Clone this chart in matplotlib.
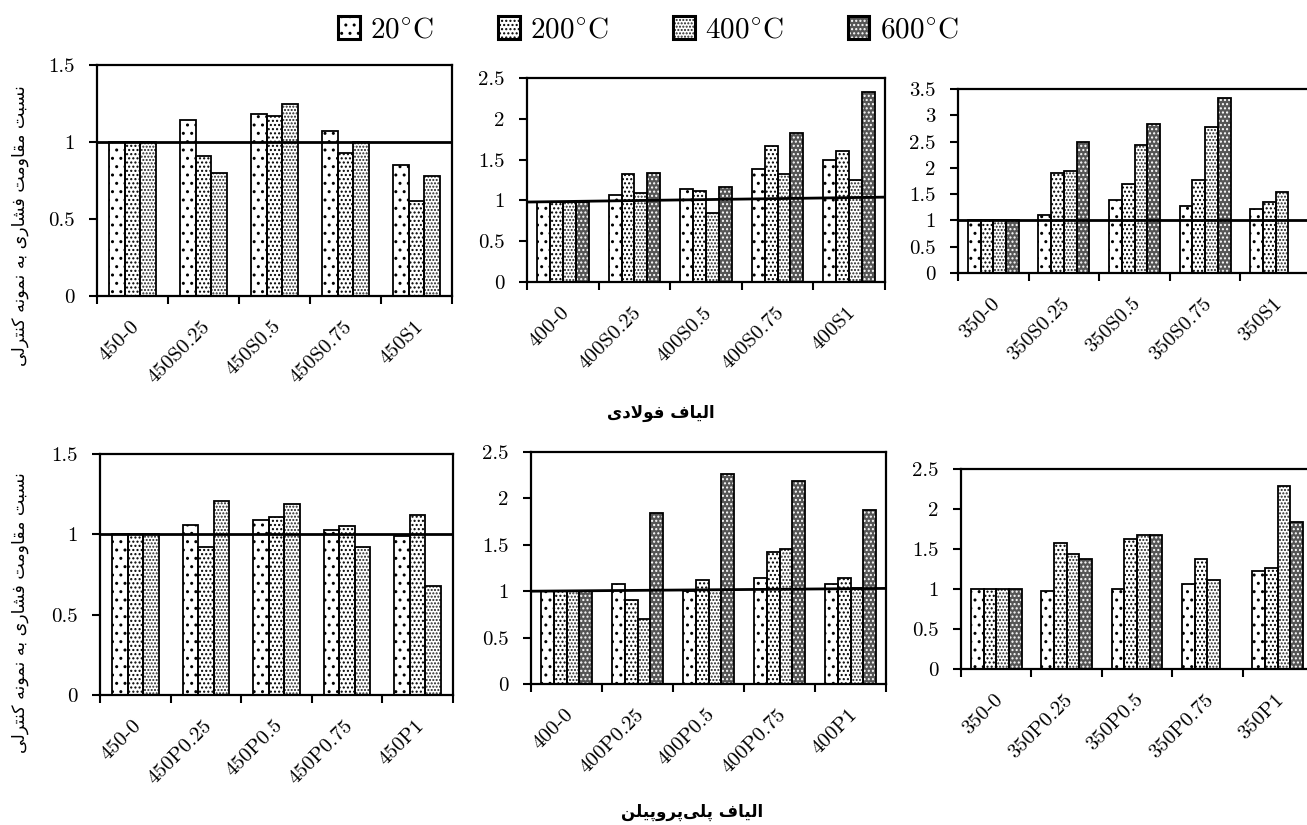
import numpy as np
import matplotlib
matplotlib.use('Agg')
import matplotlib.pyplot as plt
from matplotlib.patches import Patch
from matplotlib.ticker import FuncFormatter

plt.rcParams['font.family'] = ['cmr10', 'DejaVu Sans']
plt.rcParams['mathtext.fontset'] = 'cm'
plt.rcParams['axes.formatter.use_mathtext'] = True
plt.rcParams['hatch.linewidth'] = 1.0

nan = np.nan

# ---- data (ratio to control sample) ----
temps = ['20', '200', '400', '600']

steel450_names = ['450-0', '450S0.25', '450S0.5', '450S0.75', '450S1']
steel450_20 = [1.0, 1.14, 1.18, 1.07, 0.85]
steel450_200 = [1.0, 0.91, 1.17, 0.93, 0.62]
steel450_400 = [1.0, 0.80, 1.25, 1.0, 0.78]

steel400_names = ['400-0', '400S0.25', '400S0.5', '400S0.75', '400S1']
steel400_20 = [0.98, 1.07, 1.14, 1.38, 1.50]
steel400_200 = [0.98, 1.32, 1.11, 1.67, 1.60]
steel400_400 = [0.98, 1.09, 0.85, 1.32, 1.25]
steel400_600 = [0.98, 1.33, 1.17, 1.83, 2.33]

steel350_names = ['350-0', '350S0.25', '350S0.5', '350S0.75', '350S1']
steel350_20 = [1.0, 1.10, 1.39, 1.27, 1.21]
steel350_200 = [1.0, 1.90, 1.69, 1.76, 1.35]
steel350_400 = [1.0, 1.94, 2.43, 2.77, 1.54]
steel350_600 = [1.0, 2.50, 2.83, 3.32, nan]

pp450_names = ['450-0', '450P0.25', '450P0.5', '450P0.75', '450P1']
pp450_20 = [1.0, 1.06, 1.09, 1.03, 0.99]
pp450_200 = [1.0, 0.92, 1.11, 1.05, 1.12]
pp450_400 = [1.0, 1.21, 1.19, 0.92, 0.68]

pp400_names = ['400-0', '400P0.25', '400P0.5', '400P0.75', '400P1']
pp400_20 = [1.0, 1.08, 1.0, 1.14, 1.08]
pp400_200 = [1.0, 0.91, 1.12, 1.42, 1.14]
pp400_400 = [1.0, 0.70, 1.01, 1.45, 1.03]
pp400_600 = [1.0, 1.84, 2.26, 2.19, 1.87]

pp350_names = ['350-0', '350P0.25', '350P0.5', '350P0.75', '350P1']
pp350_20 = [1.0, 0.97, 1.0, 1.06, 1.22]
pp350_200 = [1.0, 1.58, 1.62, 1.38, 1.26]
pp350_400 = [1.0, 1.44, 1.67, 1.11, 2.29]
pp350_600 = [1.0, 1.38, 1.67, nan, 1.84]

# hand drawn line at ratio 1 (start, end), None = no line
line_steel450 = (1.0, 1.0)
line_steel400 = (0.98, 1.04)
line_steel350 = (1.0, 1.0)
line_pp450 = (1.0, 1.0)
line_pp400 = (1.0, 1.03)
line_pp350 = None

ylabel_fa = 'نسبت مقاومت فشاری به نمونه کنترلی'
title_steel = 'الیاف فولادی'
title_pp = 'الیاف پلی\u200cپروپیلن'

# fill colour, hatch, hatch colour per temperature
styles = {'20': ('white', '..', 'black'),
          '200': ('white', '....', 'black'),
          '400': ('white', '.....', '#222222'),
          '600': ('#555555', '....', 'white')}


# matplotlib has no arabic shaping, so pick presentation forms by hand
FORMS = {
    'ا': ('\uFE8D', '\uFE8E', None, None),
    'ب': ('\uFE8F', '\uFE90', '\uFE91', '\uFE92'),
    'پ': ('\uFB56', '\uFB57', '\uFB58', '\uFB59'),
    'ت': ('\uFE95', '\uFE96', '\uFE97', '\uFE98'),
    'د': ('\uFEA9', '\uFEAA', None, None),
    'ر': ('\uFEAD', '\uFEAE', None, None),
    'س': ('\uFEB1', '\uFEB2', '\uFEB3', '\uFEB4'),
    'ش': ('\uFEB5', '\uFEB6', '\uFEB7', '\uFEB8'),
    'ف': ('\uFED1', '\uFED2', '\uFED3', '\uFED4'),
    'ق': ('\uFED5', '\uFED6', '\uFED7', '\uFED8'),
    'ک': ('\uFB8E', '\uFB8F', '\uFB90', '\uFB91'),
    'ل': ('\uFEDD', '\uFEDE', '\uFEDF', '\uFEE0'),
    'م': ('\uFEE1', '\uFEE2', '\uFEE3', '\uFEE4'),
    'ن': ('\uFEE5', '\uFEE6', '\uFEE7', '\uFEE8'),
    'و': ('\uFEED', '\uFEEE', None, None),
    'ه': ('\uFEE9', '\uFEEA', '\uFEEB', '\uFEEC'),
    'ی': ('\uFBFC', '\uFBFD', '\uFBFE', '\uFBFF'),
    'لا': ('\uFEFB', '\uFEFC', None, None),
}


def shape(text):
    chars = []
    i = 0
    while i < len(text):
        if text[i:i + 2] == 'لا':
            chars.append('لا')
            i += 2
        else:
            chars.append(text[i])
            i += 1
    out = []
    for k, c in enumerate(chars):
        if c not in FORMS:
            if c != '\u200c':
                out.append(c)
            continue
        prev = chars[k - 1] if k > 0 else None
        nxt = chars[k + 1] if k + 1 < len(chars) else None
        jp = prev in FORMS and FORMS[prev][2] is not None
        jn = FORMS[c][2] is not None and nxt in FORMS
        f = FORMS[c]
        if jp and jn:
            out.append(f[3])
        elif jp:
            out.append(f[1])
        elif jn:
            out.append(f[2])
        else:
            out.append(f[0])
    return ''.join(out[::-1])


def panel(rect, names, series, ymax, ref, width):
    ax = fig.add_axes(rect)
    x = np.arange(len(names))
    n = len(series)
    start = 0.5 - n * width / 2
    for j, (t, vals) in enumerate(series):
        face, hatch, hcol = styles[t]
        pos = x + start + width * (j + 0.5)
        ax.bar(pos, vals, width, color=face, hatch=hatch, edgecolor=hcol,
               linewidth=0, zorder=2)
        ax.bar(pos, vals, width, fill=False, edgecolor='black', linewidth=1.3,
               zorder=3)
    if ref is not None:
        ax.plot([0, len(names)], ref, color='black', lw=2.0, zorder=4)
    ax.set_xlim(0, len(names))
    ax.set_ylim(0, ymax)
    ax.set_yticks(np.arange(0, ymax + 0.01, 0.5))
    ax.yaxis.set_major_formatter(FuncFormatter(lambda v, p: '%g' % v))
    ax.set_xticks(np.arange(len(names) + 1))
    ax.set_xticklabels([])
    ax.set_xticks(x + 0.55, minor=True)
    ax.set_xticklabels(names, minor=True, rotation=45, ha='right', va='center',
                       rotation_mode='anchor', fontsize=15)
    ax.tick_params(axis='x', which='major', direction='out', length=6, width=1.5)
    ax.tick_params(axis='x', which='minor', length=0, pad=20)
    ax.tick_params(axis='y', direction='out', length=6, width=1.5, pad=10,
                   labelsize=15)
    for s in ax.spines.values():
        s.set_linewidth(1.6)
    return ax


fig = plt.figure(figsize=(13.07, 8.25), dpi=100)
W, H = 1307.0, 825.0


def rect(x0, x1, ytop, ybot):
    return [x0 / W, 1 - ybot / H, (x1 - x0) / W, (ybot - ytop) / H]


panel(rect(97, 452, 65, 296), steel450_names,
      [('20', steel450_20), ('200', steel450_200), ('400', steel450_400)],
      1.5, line_steel450, 0.22)
panel(rect(527, 885, 78, 282), steel400_names,
      [('20', steel400_20), ('200', steel400_200), ('400', steel400_400),
       ('600', steel400_600)], 2.5, line_steel400, 0.18)
panel(rect(958, 1311, 89, 273), steel350_names,
      [('20', steel350_20), ('200', steel350_200), ('400', steel350_400),
       ('600', steel350_600)], 3.5, line_steel350, 0.18)
panel(rect(100, 453, 454, 695), pp450_names,
      [('20', pp450_20), ('200', pp450_200), ('400', pp450_400)],
      1.5, line_pp450, 0.22)
panel(rect(531, 886, 452, 684), pp400_names,
      [('20', pp400_20), ('200', pp400_200), ('400', pp400_400),
       ('600', pp400_600)], 2.5, line_pp400, 0.18)
panel(rect(961, 1313, 469, 669), pp350_names,
      [('20', pp350_20), ('200', pp350_200), ('400', pp350_400),
       ('600', pp350_600)], 2.5, line_pp350, 0.18)

# persian labels
fa = dict(family='DejaVu Sans')
fig.text(20 / W, 1 - 226 / H, shape(ylabel_fa), rotation=90, ha='center',
         va='center', fontsize=12.5, **fa)
fig.text(20 / W, 1 - 613 / H, shape(ylabel_fa), rotation=90, ha='center',
         va='center', fontsize=12.5, **fa)
fig.text(661 / W, 1 - 413 / H, shape(title_steel), ha='center', va='center',
         fontsize=12, fontweight='bold', **fa)
fig.text(692 / W, 1 - 812 / H, shape(title_pp), ha='center', va='center',
         fontsize=12, fontweight='bold', **fa)

# legend
handles = []
for t in temps:
    face, hatch, hcol = styles[t]
    handles.append((Patch(facecolor=face, hatch=hatch, edgecolor=hcol, linewidth=0),
                    Patch(fill=False, edgecolor='black', linewidth=2.2)))
labels = [r'$%s^{\circ}\mathrm{C}$' % t for t in temps]
fig.legend(handles, labels, loc='center', bbox_to_anchor=(648 / W, 1 - 30 / H),
           ncol=4, frameon=False, fontsize=21, handlelength=0.75, handleheight=0.85,
           columnspacing=2.2, handletextpad=0.35)

fig.savefig('out.png', dpi=100)
